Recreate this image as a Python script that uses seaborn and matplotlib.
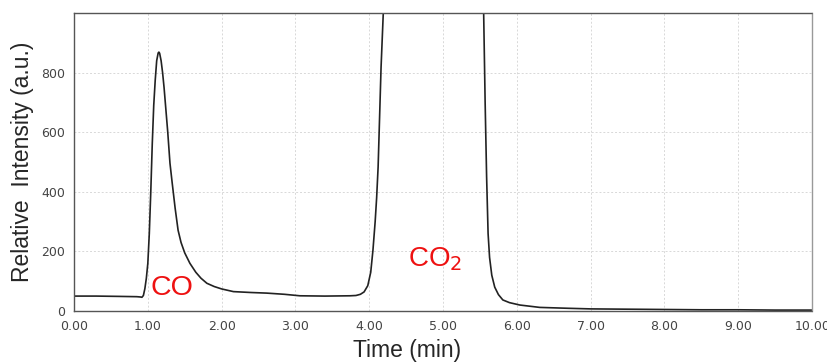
import matplotlib
matplotlib.use("Agg")
import matplotlib.pyplot as plt
import seaborn as sns
import pandas as pd

time_min = [0.00, 0.30, 0.60, 0.85, 0.90, 0.92, 0.94, 0.96, 0.98, 1.00, 1.02, 1.04, 1.06, 1.08,
            1.10, 1.12, 1.14, 1.15, 1.16, 1.18, 1.20, 1.22, 1.24, 1.27, 1.30, 1.33, 1.37, 1.41,
            1.45, 1.50, 1.57, 1.65, 1.72, 1.80, 1.90, 2.00, 2.16, 2.40, 2.61, 2.85, 3.06, 3.40,
            3.74, 3.82, 3.88, 3.93, 3.98, 4.02, 4.05, 4.08, 4.10, 4.12, 4.14, 4.16, 4.19,
            4.30, 4.60, 4.90, 5.20, 5.45, 5.52, 5.55, 5.57, 5.59, 5.61, 5.63, 5.66, 5.70,
            5.75, 5.81, 5.90, 6.04, 6.31, 6.70, 7.00, 7.50, 8.00, 8.50, 9.00, 9.50, 10.00]
intensity = [50, 50, 49, 48, 47, 46, 52, 75, 110, 160, 260, 400, 560, 690,
             774, 840, 866, 869, 865, 840, 800, 750, 690, 600, 496, 430, 345, 271,
             230, 195, 160, 130, 110, 93, 82, 74, 65, 62, 60, 56, 51, 50,
             51, 52, 56, 64, 85, 130, 204, 300, 380, 483, 650, 818, 1000,
             2200, 4000, 5000, 3500, 1800, 1150, 1000, 700, 450, 260, 180, 120, 80,
             55, 37, 28, 20, 12, 9, 7, 6, 5, 4, 4, 3, 3]

df = pd.DataFrame({"Time": time_min, "Intensity": intensity})

sns.set_style("white")
plt.rcParams['font.family'] = ['DejaVu Sans']

fig = plt.figure(figsize=(8.27, 3.63), dpi=100)
ax = fig.add_axes([0.0895, 0.1433, 0.8925, 0.8207])

sns.lineplot(data=df, x="Time", y="Intensity", ax=ax, color="#222222", linewidth=1.2)

ax.set_xlim(0, 10)
ax.set_ylim(0, 1000)
ax.set_xticks([i for i in range(11)])
ax.set_xticklabels([f"{i:.2f}" for i in range(11)])
ax.set_yticks([0, 200, 400, 600, 800])
ax.tick_params(axis="both", labelsize=9, labelcolor="#444444", color="#555555",
               length=3, width=0.8, direction="out")

ax.grid(True, color="#d8d8d8", linestyle=(0, (2, 2)), linewidth=0.7)
for side in ["top", "bottom", "left", "right"]:
    ax.spines[side].set_visible(True)
    ax.spines[side].set_linestyle((0, (1, 1)))
    ax.spines[side].set_linewidth(1.0)
    ax.spines[side].set_color("#555555")
ax.spines["right"].set_color("#999999")

ax.set_xlabel("Time (min)", fontsize=16.5, labelpad=1, family=["Liberation Sans", "DejaVu Sans"])
ax.xaxis.set_label_coords(0.451, -0.095)
ax.set_ylabel("Relative  Intensity (a.u.)", fontsize=16.5, labelpad=5,
              family=["Liberation Sans", "DejaVu Sans"])

ax.text(1.03, 55, "CO", color="#ee1111", fontsize=20.5, family=["Liberation Sans", "DejaVu Sans"])
ax.text(4.52, 150, "CO$_2$", color="#ee1111", fontsize=20, family=["Liberation Sans", "DejaVu Sans"])

fig.savefig("out.png", dpi=100)
